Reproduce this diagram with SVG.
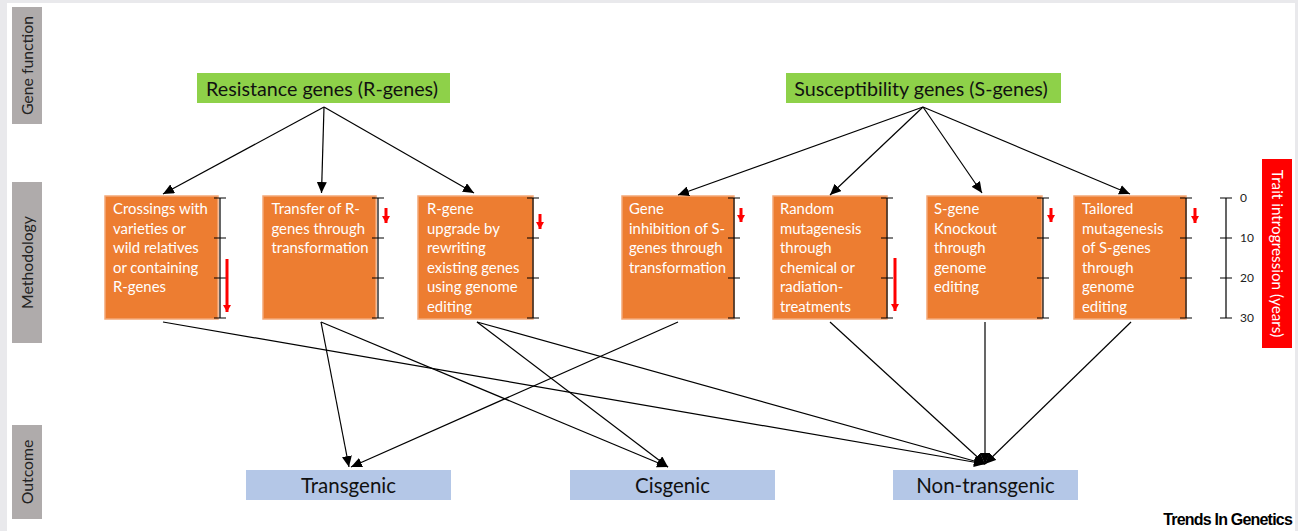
<svg xmlns="http://www.w3.org/2000/svg" width="1298" height="531" viewBox="0 0 1298 531">
<defs>
<marker id="ah" markerUnits="userSpaceOnUse" markerWidth="12" markerHeight="10" refX="11" refY="5" orient="auto">
<path d="M0,0 L11,5 L0,10 Z" fill="#000"/>
</marker>
<marker id="ra" markerUnits="userSpaceOnUse" markerWidth="8" markerHeight="8" refX="4" refY="7" orient="0">
<path d="M0,0 L8,0 L4,7 Z" fill="#ff0000"/>
</marker>
</defs>
<style>
.side{fill:#afabab}
.sidet{font-family:Lato,"Liberation Sans",sans-serif;font-size:15.8px;fill:#222;text-anchor:middle}
.green{fill:#8ed149}
.gt{font-family:Lato,"Liberation Sans",sans-serif;font-size:19.7px;fill:#111;text-anchor:middle}
.orange{fill:#ed7d31;stroke:#f3a877;stroke-width:1.5}
.ot{font-family:Lato,"Liberation Sans",sans-serif;font-size:14.9px;fill:#fff}
.blue{fill:#b4c7e7}
.bt{font-family:Lato,"Liberation Sans",sans-serif;font-size:20.5px;fill:#111;text-anchor:middle}
.sc{stroke:#000;stroke-width:1.2;fill:none}
.red{stroke:#ff0000;stroke-width:3;fill:none}
.con line{stroke:#000;stroke-width:1.2;marker-end:url(#ah)}
.num{font-family:Lato,"Liberation Sans",sans-serif;font-size:12px;fill:#222}
</style>
<rect x="0" y="0" width="1298" height="531" fill="#e9e9ec"/>
<rect x="7" y="3" width="1288" height="528" fill="#fff"/>

<g id="label-gene-function">
<rect class="side" x="12" y="7" width="30" height="117"/>
<text class="sidet" transform="translate(33,65.5) rotate(-90)">Gene function</text>
</g>
<g id="label-methodology">
<rect class="side" x="12" y="182" width="30" height="161"/>
<text class="sidet" transform="translate(33,262.5) rotate(-90)">Methodology</text>
</g>
<g id="label-outcome">
<rect class="side" x="12" y="425" width="30" height="94"/>
<text class="sidet" transform="translate(33,472) rotate(-90)">Outcome</text>
</g>

<g id="r-genes">
<rect class="green" x="197" y="73" width="253" height="30"/>
<text class="gt" x="322" y="95.5">Resistance genes (R-genes)</text>
</g>
<g id="s-genes">
<rect class="green" x="786" y="73" width="275" height="30"/>
<text class="gt" x="921" y="95.5">Susceptibility genes (S-genes)</text>
</g>

<g id="m1">
<rect class="orange" x="105" y="196" width="113" height="123"/>
<text class="ot"><tspan x="113" y="214">Crossings with</tspan><tspan x="113" y="233.5">varieties or</tspan><tspan x="113" y="253">wild relatives</tspan><tspan x="113" y="272.5">or containing</tspan><tspan x="113" y="292">R-genes</tspan></text>
<path class="sc" d="M220,198V318M214,198H226M214,238H226M214,278H226M214,318H226"/>
<line class="red" x1="227" y1="259" x2="227" y2="312" marker-end="url(#ra)"/>
</g>
<g id="m2">
<rect class="orange" x="263" y="196" width="113" height="123"/>
<text class="ot"><tspan x="271.5" y="214">Transfer of R-</tspan><tspan x="271.5" y="233.5">genes through</tspan><tspan x="271.5" y="253">transformation</tspan></text>
<path class="sc" d="M378,198V318M372,198H384M372,238H384M372,278H384M372,318H384"/>
<line class="red" x1="386" y1="208" x2="386" y2="223" marker-end="url(#ra)"/>
</g>
<g id="m3">
<rect class="orange" x="418" y="196" width="115" height="123"/>
<text class="ot"><tspan x="427" y="214">R-gene</tspan><tspan x="427" y="233.5">upgrade by</tspan><tspan x="427" y="253">rewriting</tspan><tspan x="427" y="272.5">existing genes</tspan><tspan x="427" y="292">using genome</tspan><tspan x="427" y="311.5">editing</tspan></text>
<path class="sc" d="M533,198V318M527,198H539M527,238H539M527,278H539M527,318H539"/>
<line class="red" x1="540" y1="214" x2="540" y2="229" marker-end="url(#ra)"/>
</g>
<g id="m4">
<rect class="orange" x="622" y="196" width="112" height="123"/>
<text class="ot"><tspan x="629" y="214">Gene</tspan><tspan x="629" y="233.5">inhibition of S-</tspan><tspan x="629" y="253">genes through</tspan><tspan x="629" y="272.5">transformation</tspan></text>
<path class="sc" d="M734,198V318M728,198H740M728,238H740M728,278H740M728,318H740"/>
<line class="red" x1="741" y1="208" x2="741" y2="222" marker-end="url(#ra)"/>
</g>
<g id="m5">
<rect class="orange" x="773" y="196" width="114" height="123"/>
<text class="ot"><tspan x="780" y="214">Random</tspan><tspan x="780" y="233.5">mutagenesis</tspan><tspan x="780" y="253">through</tspan><tspan x="780" y="272.5">chemical or</tspan><tspan x="780" y="292">radiation-</tspan><tspan x="780" y="311.5">treatments</tspan></text>
<path class="sc" d="M887,198V318M881,198H893M881,238H893M881,278H893M881,318H893"/>
<line class="red" x1="895" y1="258" x2="895" y2="311" marker-end="url(#ra)"/>
</g>
<g id="m6">
<rect class="orange" x="927" y="196" width="115" height="123"/>
<text class="ot"><tspan x="934" y="214">S-gene</tspan><tspan x="934" y="233.5">Knockout</tspan><tspan x="934" y="253">through</tspan><tspan x="934" y="272.5">genome</tspan><tspan x="934" y="292">editing</tspan></text>
<path class="sc" d="M1043,198V318M1037,198H1049M1037,238H1049M1037,278H1049M1037,318H1049" stroke="#444"/>
<line class="red" x1="1051" y1="208" x2="1051" y2="222" marker-end="url(#ra)"/>
</g>
<g id="m7">
<rect class="orange" x="1074" y="196" width="112" height="123"/>
<text class="ot"><tspan x="1082" y="214">Tailored</tspan><tspan x="1082" y="233.5">mutagenesis</tspan><tspan x="1082" y="253">of S-genes</tspan><tspan x="1082" y="272.5">through</tspan><tspan x="1082" y="292">genome</tspan><tspan x="1082" y="311.5">editing</tspan></text>
<path class="sc" d="M1186,198V318M1180,198H1192M1180,238H1192M1180,278H1192M1180,318H1192"/>
<line class="red" x1="1195" y1="208" x2="1195" y2="223" marker-end="url(#ra)"/>
</g>

<g id="scale">
<path class="sc" d="M1226,198V318M1220,198H1232M1220,238H1232M1220,278H1232M1220,318H1232" stroke="#333"/>
<text class="num" x="1240" y="202">0</text>
<text class="num" x="1240" y="242">10</text>
<text class="num" x="1240" y="282">20</text>
<text class="num" x="1240" y="322">30</text>
</g>
<g id="trait-label">
<rect x="1262" y="159" width="30" height="189" fill="#ff0000"/>
<text transform="translate(1271.5,253.5) rotate(90)" font-family="Lato,'Liberation Sans',sans-serif" font-size="15.3" fill="#fff" text-anchor="middle">Trait introgression (years)</text>
</g>

<g id="transgenic">
<rect class="blue" x="246" y="470" width="205" height="30"/>
<text class="bt" x="348.5" y="493">Transgenic</text>
</g>
<g id="cisgenic">
<rect class="blue" x="570" y="470" width="205" height="30"/>
<text class="bt" x="672.5" y="493">Cisgenic</text>
</g>
<g id="non-transgenic">
<rect class="blue" x="893" y="470" width="185" height="30"/>
<text class="bt" x="985.5" y="493">Non-transgenic</text>
</g>

<g id="connectors" class="con">
<line x1="324" y1="107" x2="163" y2="194"/>
<line x1="324" y1="107" x2="321.5" y2="193"/>
<line x1="324" y1="107" x2="474" y2="193"/>
<line x1="923" y1="107" x2="678" y2="195"/>
<line x1="923" y1="107" x2="830" y2="195"/>
<line x1="923" y1="107" x2="982" y2="193"/>
<line x1="923" y1="107" x2="1130" y2="194"/>
<line x1="163" y1="322" x2="985" y2="464"/>
<line x1="321" y1="322" x2="349" y2="467"/>
<line x1="321" y1="322" x2="668" y2="467"/>
<line x1="477" y1="322" x2="668" y2="467"/>
<line x1="477" y1="322" x2="985" y2="464"/>
<line x1="678" y1="322" x2="351" y2="467"/>
<line x1="830" y1="322" x2="985" y2="464"/>
<line x1="985" y1="322" x2="985" y2="464"/>
<line x1="1131" y1="322" x2="985" y2="464"/>
</g>

<text x="1292" y="525" font-family="'Liberation Sans',Arial,sans-serif" font-weight="bold" font-size="16" letter-spacing="-0.8" text-anchor="end" fill="#000">Trends In Genetics</text>
</svg>
